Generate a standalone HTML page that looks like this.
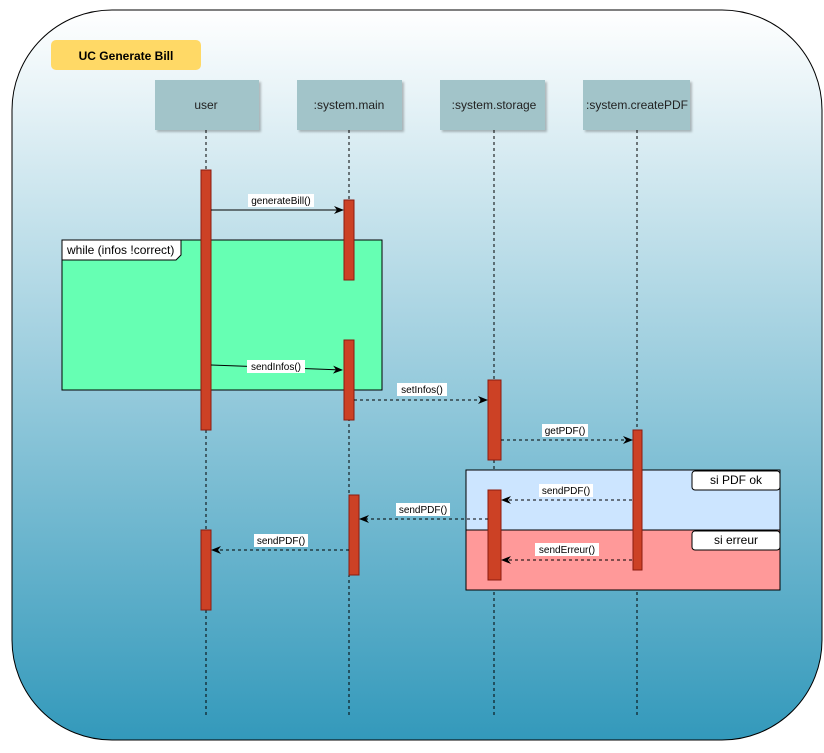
<!DOCTYPE html>
<html><head><meta charset="utf-8"><style>body{margin:0;background:#fff}svg{display:block;font-family:"Liberation Sans",sans-serif}</style></head><body>
<svg width="824" height="753" viewBox="0 0 824 753">
<defs>
<linearGradient id="g" x1="0" y1="0" x2="0" y2="1"><stop offset="0" stop-color="#ffffff"/><stop offset="1" stop-color="#3399bb"/></linearGradient>
<marker id="a" markerWidth="10" markerHeight="8" refX="9" refY="4" orient="auto" markerUnits="userSpaceOnUse"><path d="M0,0 L10,4 L0,8 L3,4 Z" fill="#000"/></marker>
<filter id="s"><feDropShadow dx="2" dy="2" stdDeviation="1" flood-opacity="0.25"/></filter>
</defs>
<rect x="12" y="10" width="810" height="730" rx="100" fill="url(#g)" stroke="#000" stroke-width="1"/>
<rect x="51" y="40" width="150" height="30" rx="5" fill="#ffd966"/>
<text x="126" y="60" font-size="12" font-weight="bold" text-anchor="middle">UC Generate Bill</text>
<g fill="#a2c4c9" filter="url(#s)">
<rect x="155" y="80" width="104" height="50"/><rect x="297" y="80" width="105" height="50"/><rect x="440" y="80" width="105" height="50"/><rect x="583" y="80" width="107" height="50"/>
</g>
<g font-size="12" text-anchor="middle" fill="#222">
<text x="206" y="109">user</text><text x="349" y="109">:system.main</text><text x="494" y="109">:system.storage</text><text x="637" y="109">:system.createPDF</text>
</g>
<g stroke="#000" stroke-dasharray="3,3">
<line x1="206" y1="130" x2="206" y2="715"/><line x1="349" y1="130" x2="349" y2="715"/><line x1="494" y1="130" x2="494" y2="715"/><line x1="637" y1="130" x2="637" y2="715"/>
</g>
<rect x="62" y="240" width="320" height="150" fill="#66ffb3" stroke="#000"/>
<path d="M62,240 H181 V255 L176,260 H62 Z" fill="#fff" stroke="#000"/>
<text x="67" y="254" font-size="12">while (infos !correct)</text>
<rect x="466" y="470" width="314" height="60" fill="#cce5ff" stroke="#000"/>
<rect x="466" y="530" width="314" height="60" fill="#ff9999" stroke="#000"/>
<rect x="692" y="471" width="88" height="19" rx="3" fill="#fff" stroke="#000"/>
<rect x="692" y="531" width="88" height="19" rx="3" fill="#fff" stroke="#000"/>
<text x="736" y="484" font-size="12" text-anchor="middle">si PDF ok</text>
<text x="736" y="544" font-size="12" text-anchor="middle">si erreur</text>
<g fill="#cc4125" stroke="#8b1a0e">
<rect x="201" y="170" width="10" height="260"/><rect x="201" y="530" width="10" height="80"/>
<rect x="344" y="200" width="10" height="80"/><rect x="344" y="340" width="10" height="80"/><rect x="349" y="495" width="10" height="80"/>
<rect x="488" y="380" width="13" height="80"/><rect x="488" y="490" width="13" height="90"/>
<rect x="633" y="430" width="9" height="140"/>
</g>
<g stroke="#000" fill="none">
<line x1="211" y1="210" x2="343" y2="210" marker-end="url(#a)"/>
<line x1="211" y1="365" x2="342" y2="370" marker-end="url(#a)"/>
<g stroke-dasharray="3,3">
<line x1="354" y1="400" x2="487" y2="400" marker-end="url(#a)"/>
<line x1="501" y1="440" x2="632" y2="440" marker-end="url(#a)"/>
<line x1="632" y1="500" x2="502" y2="500" marker-end="url(#a)"/>
<line x1="488" y1="519" x2="360" y2="519" marker-end="url(#a)"/>
<line x1="632" y1="560" x2="502" y2="560" marker-end="url(#a)"/>
<line x1="349" y1="550" x2="212" y2="550" marker-end="url(#a)"/>
</g></g>
<g font-size="10" text-anchor="middle">
<rect x="248" y="194" width="66" height="13" fill="#fff"/><text x="281" y="204">generateBill()</text>
<rect x="247" y="360" width="58" height="13" fill="#fff"/><text x="276" y="370">sendInfos()</text>
<rect x="397" y="383" width="50" height="13" fill="#fff"/><text x="422" y="393">setInfos()</text>
<rect x="542" y="424" width="46" height="13" fill="#fff"/><text x="565" y="434">getPDF()</text>
<rect x="539" y="484" width="54" height="13" fill="#fff"/><text x="566" y="494">sendPDF()</text>
<rect x="396" y="503" width="54" height="13" fill="#fff"/><text x="423" y="513">sendPDF()</text>
<rect x="535" y="543" width="64" height="13" fill="#fff"/><text x="567" y="553">sendErreur()</text>
<rect x="254" y="534" width="54" height="13" fill="#fff"/><text x="281" y="544">sendPDF()</text>
</g>
</svg>
</body></html>
